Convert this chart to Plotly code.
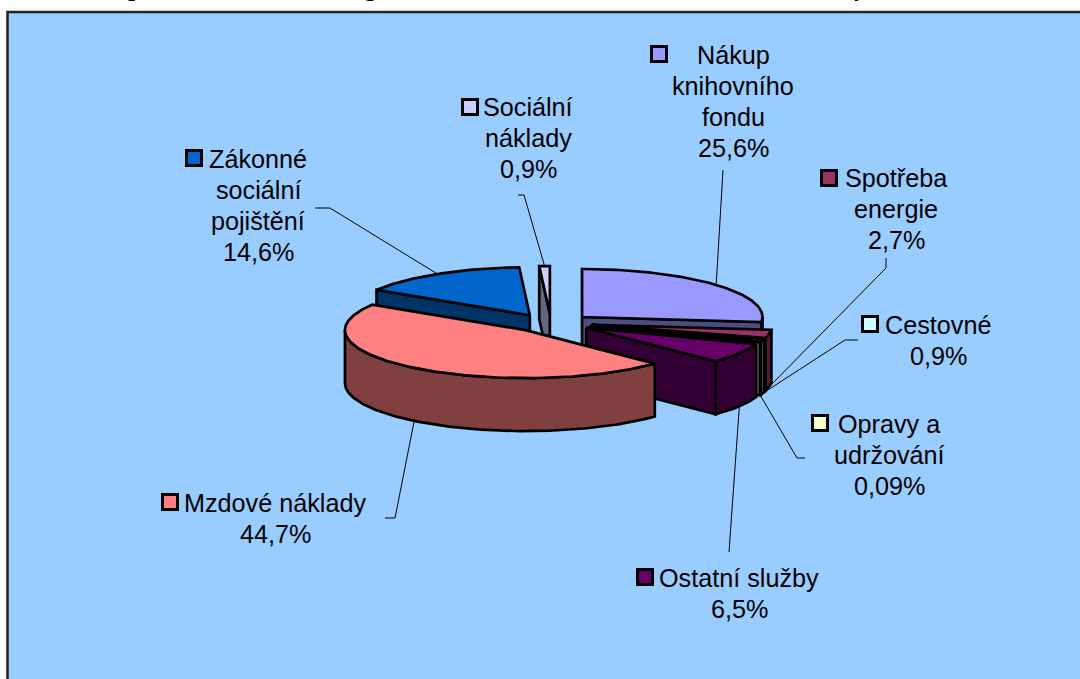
import math
import plotly.graph_objects as go

# ---- data ----
categories = ["Nákup<br>knihovního<br>fondu", "Spotřeba<br>energie", "Cestovné", "Opravy a<br>udržování",
              "Ostatní služby", "Mzdové náklady", "Zákonné<br>sociální<br>pojištění", "Sociální<br>náklady"]
shares = [25.6, 2.7, 0.9, 0.09, 6.5, 44.7, 14.6, 0.9]
share_labels = ["25,6%", "2,7%", "0,9%", "0,09%", "6,5%", "44,7%", "14,6%", "0,9%"]

# ---- styles ----
top_colors = ["#9999FF", "#993366", "#CCFFFF", "#FFFFCC", "#660066", "#FF8080", "#0066CC", "#CCCCFF"]
wall_colors = ["#4D4D80", "#4D1A33", "#668080", "#808066", "#330033", "#804040", "#003366", "#666680"]
draw_order = [6, 7, 0, 1, 2, 3, 4, 5]

# ---- pie geometry (pixel axes) ----
CX, CY = 551.1, 323.0
RX, RY = 180.5, 48.0
EX, EY = 41.6, 9.0
DEPTH = 53.0
EDGE = 2.7
FONT = "Liberation Sans"
FONT_SIZE = 25.2
LINE_GAP = 31

# label centre x and first-line centre y, key centre, leader waypoints (label side first)
text_pos = [(733, 55), (896, 178), (938, 325), (889, 424), (739, 578), (275, 503), (258, 159), (528, 107)]
key_pos = [(659, 54), (829, 178), (870, 324), (820, 423), (645, 577), (170, 502), (194, 158), (470, 107)]
leader_pts = [
    [(723, 170)],
    [(886, 258), (886, 268)],
    [(858, 340), (845, 340)],
    [(805, 458), (797, 458)],
    [(729, 552)],
    [(385, 518), (395, 518)],
    [(315, 208), (330, 208)],
    [(518, 195), (524, 195)],
]

total = sum(shares)
edges = [0.0]
for s in shares:
    edges.append(edges[-1] + s / total * 360.0)


def apex(i):
    m = math.radians((edges[i] + edges[i + 1]) / 2)
    return CX + EX * math.sin(m), CY - EY * math.cos(m)


def rim(i, deg, drop=0.0):
    ax, ay = apex(i)
    t = math.radians(deg)
    return ax + RX * math.sin(t), ay - RY * math.cos(t) + drop


def arc(i, a, b, drop=0.0):
    n = max(2, int(abs(b - a)) + 2)
    return [rim(i, a + (b - a) * k / (n - 1), drop) for k in range(n)]


fig = go.Figure()


def poly(points, fill):
    fig.add_trace(go.Scatter(
        x=[p[0] for p in points] + [points[0][0]],
        y=[p[1] for p in points] + [points[0][1]],
        mode="lines", fill="toself", fillcolor=fill,
        line=dict(color="black", width=EDGE, shape="linear"),
        hoverinfo="skip", showlegend=False))


# leader lines sit behind the pie
for i, pts in enumerate(leader_pts):
    mid = (edges[i] + edges[i + 1]) / 2
    end = rim(i, mid, DEPTH if 90 <= mid <= 270 else 0.0)
    line = pts + [end]
    fig.add_trace(go.Scatter(x=[p[0] for p in line], y=[p[1] for p in line], mode="lines",
                             line=dict(color="black", width=1), hoverinfo="skip", showlegend=False))

for i in draw_order:
    a, b = edges[i], edges[i + 1]
    ax, ay = apex(i)
    if math.sin(math.radians(a)) < 0:
        p = rim(i, a)
        poly([(ax, ay), p, (p[0], p[1] + DEPTH), (ax, ay + DEPTH)], wall_colors[i])
    if math.sin(math.radians(b)) > 0:
        p = rim(i, b)
        poly([(ax, ay), p, (p[0], p[1] + DEPTH), (ax, ay + DEPTH)], wall_colors[i])
    lo, hi = max(a, 90.0), min(b, 270.0)
    if lo < hi:
        poly(arc(i, lo, hi) + arc(i, hi, lo, DEPTH), wall_colors[i])
    poly([(ax, ay)] + arc(i, a, b), top_colors[i])

# legend keys
fig.add_trace(go.Scatter(
    x=[k[0] for k in key_pos], y=[k[1] for k in key_pos], mode="markers",
    marker=dict(symbol="square", size=15, color=top_colors, line=dict(color="black", width=3)),
    hoverinfo="skip", showlegend=False))

annotations = []
for c, l, (tx, ty) in zip(categories, share_labels, text_pos):
    for n, part in enumerate(c.split("<br>") + [l]):
        annotations.append(dict(x=tx, y=ty + n * LINE_GAP, xref="x", yref="y", text=part, showarrow=False,
                                xanchor="center", yanchor="middle", align="center",
                                font=dict(family=FONT, size=FONT_SIZE, color="black")))

# the title line is cut off by the top of the page: only these descenders show
for ch, px in [("p", 135), ("g", 370), ("y", 860)]:
    annotations.append(dict(x=px / 1080, y=1 - 2.5 / 679, xref="paper", yref="paper", text=f"<b>{ch}</b>", showarrow=False,
                            xanchor="center", yanchor="bottom",
                            font=dict(family="Liberation Serif", size=25, color="black"), borderpad=0))

fig.update_layout(
    width=1080, height=679, autosize=False,
    margin=dict(l=0, r=0, t=0, b=0), paper_bgcolor="white", plot_bgcolor="white",
    xaxis=dict(range=[0, 1080], visible=False, fixedrange=True),
    yaxis=dict(range=[679, 0], visible=False, fixedrange=True),
    shapes=[dict(type="rect", xref="x", yref="y", x0=7.5, y0=12, x1=1100, y1=700, layer="below",
                 fillcolor="#99CCFF", line=dict(color="#222222", width=2.5))],
    annotations=annotations,
)
fig.write_html("out.html", config={"displayModeBar": False},
               post_script="document.body.style.margin='0';document.body.style.overflow='hidden';")
